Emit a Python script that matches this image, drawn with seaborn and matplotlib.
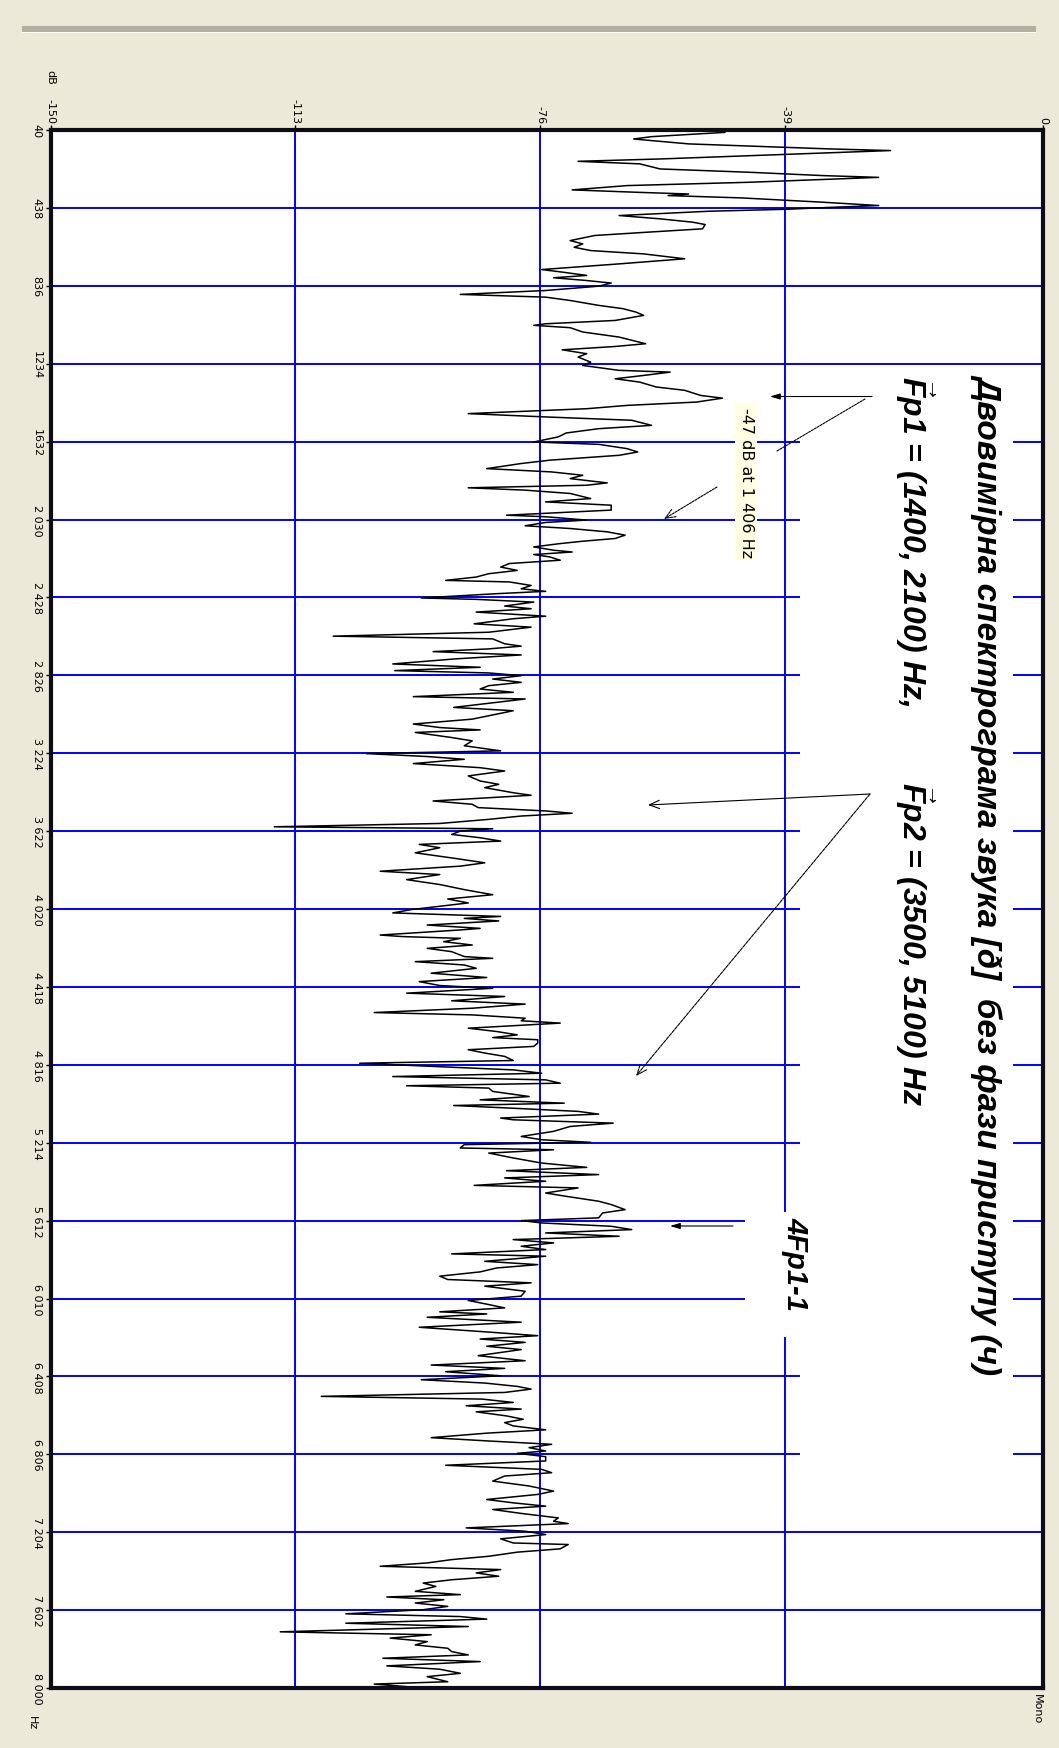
import matplotlib
matplotlib.use('Agg')
import matplotlib.pyplot as plt
from matplotlib.patches import Rectangle
import seaborn as sns
import pandas as pd

# spectrum: frequency (Hz) and level (dB)
freq_hz = [
    40, 52, 74, 86, 111, 137, 145, 171, 188, 200, 213, 239, 256, 273, 282, 307,
    324, 346, 358, 367, 375, 387, 409, 426, 435, 445, 455, 477, 494, 511, 523, 545,
    562, 579, 605, 622, 639, 656, 673, 698, 724, 753, 766, 783, 795, 809, 822, 838,
    860, 880, 894, 911, 936, 953, 970, 987, 1013, 1030, 1038, 1050, 1072, 1098, 1132, 1146,
    1163, 1183, 1200, 1226, 1243, 1268, 1277, 1294, 1311, 1328, 1353, 1370, 1396, 1410, 1430, 1447,
    1464, 1489, 1506, 1523, 1549, 1566, 1588, 1608, 1634, 1646, 1668, 1685, 1702, 1727, 1744, 1770,
    1787, 1804, 1821, 1843, 1855, 1868, 1880, 1897, 1923, 1940, 1957, 1982, 2008, 2016, 2033,
    2045, 2062, 2076, 2093, 2110, 2127, 2141, 2153, 2170, 2187, 2196, 2209, 2221, 2238, 2255, 2273,
    2290, 2307, 2324, 2341, 2349, 2367, 2384, 2397, 2409, 2431, 2438, 2452, 2472, 2486, 2503, 2524,
    2537, 2563, 2580, 2606, 2626, 2640, 2665, 2677, 2691, 2705, 2722, 2742, 2768, 2785, 2802, 2814,
    2828, 2845, 2862, 2879, 2896, 2913, 2935, 2947, 2964, 2990, 3007, 3033, 3050, 3075, 3093, 3105,
    3118, 3144, 3161, 3186, 3212, 3226, 3241, 3255, 3277, 3298, 3315, 3340, 3366, 3383, 3400, 3426,
    3439, 3468, 3485, 3502, 3519, 3531, 3545, 3562, 3583, 3600, 3610, 3622, 3639, 3656, 3673, 3690,
    3707, 3733, 3759, 3784, 3801, 3827, 3844, 3870, 3895, 3921, 3947, 3969, 3989, 4023, 4040, 4058,
    4068, 4081, 4102, 4119, 4127, 4153, 4161, 4170, 4187, 4204, 4221, 4238, 4263, 4272, 4289, 4306,
    4323, 4348, 4370, 4391, 4411, 4425, 4450, 4467, 4489, 4506, 4527, 4549, 4561, 4578, 4591, 4603,
    4629, 4646, 4663, 4677, 4688, 4705, 4722, 4739, 4756, 4773, 4794, 4808, 4825, 4842, 4859, 4876,
    4893, 4910, 4923, 4935, 4952, 4978, 4995, 5012, 5024, 5037, 5054, 5068, 5088, 5097, 5114, 5131,
    5156, 5182, 5199, 5212, 5224, 5241, 5250, 5267, 5292, 5318, 5340, 5357, 5377, 5394, 5411, 5432,
    5445, 5471, 5488, 5513, 5530, 5556, 5573, 5598, 5612, 5624, 5641, 5658, 5675, 5692, 5709, 5726,
    5743, 5760, 5782, 5794, 5820, 5837, 5854, 5874, 5896, 5913, 5930, 5947, 5973, 5998, 6020, 6041,
    6058, 6078, 6089, 6106, 6131, 6157, 6183, 6200, 6217, 6234, 6254, 6271, 6302, 6328, 6350, 6367,
    6384, 6405, 6425, 6442, 6459, 6473, 6490, 6510, 6524, 6541, 6558, 6575, 6589, 6610, 6627, 6644,
    6661, 6681, 6698, 6721, 6738, 6755, 6772, 6789, 6801, 6818, 6840, 6862, 6883, 6900, 6917, 6943,
    6968, 6994, 7011, 7037, 7054, 7071, 7088, 7108, 7131, 7148, 7160, 7182, 7199, 7216, 7238, 7259,
    7267, 7289, 7306, 7327, 7344, 7361, 7378, 7395, 7412, 7429, 7447, 7464, 7481, 7506, 7523, 7535,
    7549, 7566, 7583, 7600, 7621, 7635, 7648, 7669, 7686, 7713, 7728, 7745, 7763, 7780, 7797, 7814,
    7831, 7848, 7865, 7887, 7904, 7925, 7942, 7968, 7980, 7993, 8000,
]
level_db = [
    -50.0, -48.1, -59.2, -61.9, -53.6, -32.0, -23.1, -44.4, -57.9, -70.3, -61.0, -57.9, -44.4, -33.3, -24.9, -44.4,
    -62.9, -71.2, -61.6, -53.6, -56.7, -45.6, -33.3, -24.9, -32.0, -38.8, -50.5, -64.1, -57.9, -53.0, -51.1, -51.5,
    -59.8, -67.8, -71.5, -69.6, -70.9, -68.4, -60.4, -54.2, -64.1, -75.8, -72.7, -69.0, -74.0, -69.0, -65.3, -67.2,
    -75.2, -88.1, -75.2, -71.5, -67.2, -63.5, -61.6, -60.4, -64.7, -75.2, -77.0, -71.5, -69.6, -64.1, -60.1, -64.7,
    -72.7, -69.0, -70.3, -68.4, -69.6, -64.1, -56.4, -60.4, -64.7, -61.0, -58.5, -54.2, -51.8, -48.5, -52.4, -62.9,
    -69.0, -86.9, -75.2, -62.2, -59.2, -67.2, -72.1, -73.3, -77.0, -67.2, -62.9, -61.3, -64.1, -74.6, -78.9, -84.1,
    -74.3, -69.6, -71.5, -65.9, -69.0, -86.9, -78.3, -71.5, -68.4, -75.2, -65.3, -65.3, -81.1, -75.2, -69.0,
    -75.2, -78.3, -71.5, -65.9, -63.2, -64.7, -69.6, -73.0, -77.0, -74.0, -71.2, -77.0, -74.6, -73.0, -80.7, -82.0,
    -79.5, -83.8, -85.7, -90.3, -80.7, -77.4, -78.9, -75.2, -82.6, -94.0, -85.7, -77.0, -81.4, -77.4, -85.7, -75.2,
    -80.1, -86.0, -77.4, -83.8, -107.3, -83.2, -81.4, -78.9, -83.8, -92.2, -78.9, -88.8, -98.3, -85.1, -98.0, -83.8,
    -78.9, -83.2, -78.9, -83.8, -85.1, -80.1, -95.2, -78.3, -82.6, -89.1, -80.1, -83.8, -86.3, -95.2, -91.2, -85.1,
    -94.9, -89.4, -86.3, -87.5, -82.0, -102.3, -93.1, -87.5, -95.2, -85.1, -81.4, -86.9, -85.1, -82.3, -84.4, -80.1,
    -77.4, -92.2, -86.3, -85.4, -75.2, -71.2, -78.9, -83.8, -91.2, -116.2, -83.2, -88.1, -89.4, -85.1, -82.0, -94.3,
    -91.2, -94.9, -89.4, -84.4, -88.1, -100.2, -91.2, -96.2, -91.2, -87.5, -83.2, -90.0, -86.9, -95.5, -98.3, -82.0,
    -87.5, -82.3, -93.1, -85.1, -88.1, -100.2, -96.8, -88.1, -90.6, -86.3, -93.1, -89.4, -87.5, -83.2, -94.9, -87.5,
    -85.7, -92.5, -84.1, -94.3, -91.2, -83.2, -96.2, -81.4, -89.4, -78.3, -86.3, -101.1, -86.3, -78.3, -78.9, -73.0,
    -86.9, -82.6, -79.5, -83.2, -76.4, -76.4, -77.0, -86.9, -84.4, -81.4, -80.1, -103.3, -91.8, -80.1, -75.8, -98.3,
    -75.2, -73.0, -96.2, -83.8, -83.2, -77.7, -85.1, -72.4, -89.1, -80.7, -70.3, -67.2, -82.0, -80.1, -65.0, -71.5,
    -74.0, -78.9, -75.8, -68.4, -87.5, -88.1, -74.0, -83.8, -80.1, -75.8, -69.0, -81.1, -67.2, -81.4, -75.2, -86.0,
    -70.3, -75.2, -72.1, -67.2, -65.3, -63.2, -66.6, -67.2, -78.9, -75.8, -65.3, -62.2, -75.2, -64.1, -80.1, -74.0,
    -78.9, -75.2, -89.4, -75.2, -84.4, -76.4, -82.6, -85.1, -91.2, -90.0, -77.4, -84.4, -78.3, -78.9, -86.9, -83.8,
    -81.4, -91.2, -84.1, -93.1, -78.9, -94.3, -83.2, -76.4, -85.1, -78.3, -84.1, -78.9, -85.4, -78.3, -92.5, -81.4,
    -90.3, -82.0, -94.0, -84.4, -79.5, -77.4, -81.4, -109.1, -84.8, -80.1, -87.2, -78.9, -85.7, -81.1, -78.6, -81.4,
    -80.1, -75.2, -84.1, -92.5, -83.8, -74.3, -77.7, -75.2, -79.5, -75.2, -75.2, -90.3, -75.8, -74.3, -81.4, -83.2,
    -77.7, -74.0, -76.4, -84.1, -80.1, -75.2, -83.2, -78.9, -73.3, -74.0, -71.8, -87.2, -78.3, -75.2, -82.0, -80.1,
    -71.8, -73.0, -79.5, -83.8, -89.4, -93.1, -100.2, -82.0, -85.7, -82.3, -89.4, -93.7, -91.8, -94.9, -88.1, -99.2,
    -90.6, -94.9, -90.0, -93.7, -105.4, -88.1, -84.1, -105.4, -86.9, -115.3, -92.5, -98.7, -93.1, -94.9, -90.0, -89.4,
    -86.9, -99.8, -85.1, -99.2, -91.2, -88.1, -93.1, -90.0, -101.1, -96.2, -96.0,
]

db_ticks = [-150, -113, -76, -39, 0]
db_labels = ['-150', '-113', '-76', '-39', '0']
freq_ticks = [40, 438, 836, 1234, 1632, 2030, 2428, 2826, 3224, 3622, 4020,
              4418, 4816, 5214, 5612, 6010, 6408, 6806, 7204, 7602, 8000]
freq_labels = ['40', '438', '836', '1234', '1632', '2 030', '2 428', '2 826', '3 224',
               '3 622', '4 020', '4 418', '4 816', '5 214', '5 612', '6 010', '6 408',
               '6 806', '7 204', '7 602', '8 000']

title_text = 'Двовимірна спектрограма звука [ð]  без фази приступу (ч)'
fp1_text = r'$\vec{F}$p1 = (1400, 2100) Hz,'
fp2_text = r'$\vec{F}$p2 = (3500, 5100) Hz'
label_text = '4Fp1-1'
tip_text = '-47 dB at 1 406 Hz'

W, H = 1059, 1749
BG = '#ECE9D8'
BLUE = '#0000ff'

sns.set_theme(style='white')
plt.rcParams['font.family'] = ['DejaVu Sans']
plt.rcParams['text.color'] = 'black'
plt.rcParams['mathtext.fontset'] = 'custom'
plt.rcParams['mathtext.it'] = 'Liberation Sans:italic:bold'
plt.rcParams['mathtext.rm'] = 'Liberation Sans:bold'

fig = plt.figure(figsize=(W / 100, H / 100), dpi=100, facecolor=BG)


def fx(px):
    return px / W


def fy(py):
    return 1 - py / H


ax = fig.add_axes([fx(50.6), fy(1689), (1043.4 - 50.6) / W, (1689 - 131) / H])
ax.set_facecolor('white')

df = pd.DataFrame({'freq': freq_hz, 'db': level_db})
sns.lineplot(data=df, x='db', y='freq', sort=False, estimator=None,
             color='black', linewidth=1.1, ax=ax, zorder=2)

ax.set_xlim(-150, 0)
ax.set_ylim(8000, 40)
ax.set_xlabel('')
ax.set_ylabel('')

ax.xaxis.set_ticks_position('top')
ax.set_xticks(db_ticks)
ax.set_xticklabels(db_labels)
ax.set_yticks(freq_ticks)
ax.set_yticklabels(freq_labels)
ax.tick_params(axis='x', top=True, bottom=False, labeltop=True, labelbottom=False,
               direction='out', length=3.5, width=1, pad=1.5, labelsize=8,
               labelrotation=-90, colors='black')
ax.tick_params(axis='y', left=True, direction='out', length=3.5, width=1, pad=3,
               labelsize=8, labelrotation=-90, colors='black')
for t in ax.get_yticklabels():
    t.set_va('center')

ax.grid(True, color=BLUE, linewidth=1.4)
ax.set_axisbelow(True)
for s in ax.spines.values():
    s.set_color('#0d0d1a')
    s.set_linewidth(3)

# white boxes behind the annotation texts
for (x0, y0, x1, y1) in [(800, 372, 1013, 1470), (745, 1213, 830, 1338)]:
    ax.add_patch(Rectangle((fx(x0), fy(y1)), (x1 - x0) / W, (y1 - y0) / H,
                           transform=fig.transFigure, facecolor='white',
                           edgecolor='none', clip_on=False, zorder=1))

# top gray bar of the window
fig.add_artist(Rectangle((fx(22), fy(32.5)), (1036 - 22) / W, 5.5 / H,
                         transform=fig.transFigure, facecolor='#b3b0a3', edgecolor='none'))
fig.add_artist(Rectangle((fx(22), fy(33.5)), (1036 - 22) / W, 1 / H,
                         transform=fig.transFigure, facecolor='white', edgecolor='none'))

bold_it = dict(family=['Liberation Sans', 'DejaVu Sans'], fontweight='bold',
               style='italic', rotation=-90, ha='center', va='top', color='black',
               transform=fig.transFigure, zorder=6)
ax.text(fx(988), fy(374), title_text, fontsize=24, **bold_it)
ax.text(fx(915), fy(376), fp1_text, fontsize=23, **bold_it)
ax.text(fx(915), fy(782), fp2_text, fontsize=23, **bold_it)
ax.text(fx(795), fy(1217), label_text, fontsize=21, **bold_it)

ax.text(fx(746), fy(408), tip_text, fontsize=11.5, rotation=-90, ha='center', va='top',
        color='black', transform=fig.transFigure, zorder=6,
        bbox=dict(boxstyle='square,pad=0.2', facecolor='#FFFFE1', edgecolor='none'))

small = dict(fontsize=8, rotation=-90, ha='center', va='top', color='black',
             transform=fig.transFigure)
ax.text(fx(50), fy(70), 'dB', **small)
ax.text(fx(32), fy(1716), 'Hz', **small)
ax.text(fx(1037), fy(1694), 'Mono', **small)

# annotation arrows (figure pixels, origin bottom-left)
arrows = [
    ((872, 397.5), (770, 397.5), '-|>,head_length=0.5,head_width=0.15', '-'),
    ((865, 400), (777, 452), '-', (0, (2, 1))),
    ((717, 488), (664, 520), '->,head_length=0.6,head_width=0.25', (0, (2, 1))),
    ((870, 795), (648, 806), '->,head_length=0.6,head_width=0.25', '-'),
    ((870, 795), (636, 1077), '->,head_length=0.6,head_width=0.25', (0, (3, 1))),
    ((733, 1227), (670, 1227), '-|>,head_length=0.5,head_width=0.15', '-'),
]
for (x1, y1), (x2, y2), style, ls in arrows:
    ax.annotate('', xy=(x2, H - y2), xytext=(x1, H - y1),
                xycoords='figure pixels', textcoords='figure pixels',
                arrowprops=dict(arrowstyle=style, color='black', lw=0.8,
                                linestyle=ls, shrinkA=0, shrinkB=0,
                                mutation_scale=12),
                zorder=5, annotation_clip=False)

fig.savefig('out.png', dpi=100, facecolor=fig.get_facecolor())
